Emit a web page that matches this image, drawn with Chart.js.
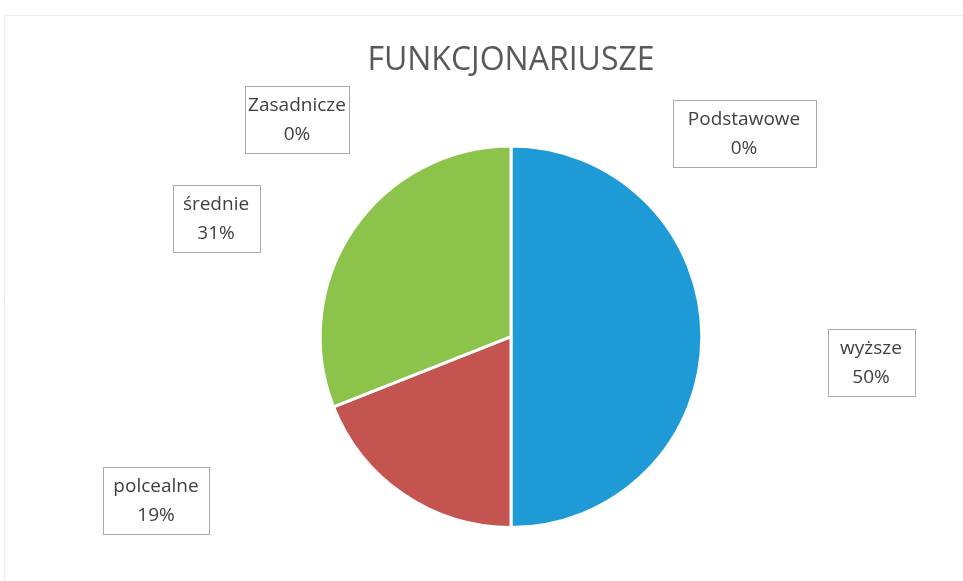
<!DOCTYPE html>
<html>
<head>
<meta charset="utf-8">
<script src="https://cdn.jsdelivr.net/npm/chart.js@4"></script>
<style>
  html, body { margin: 0; padding: 0; background: #fff; }
  #wrap { width: 963px; height: 581px; position: relative; }
</style>
</head>
<body>
<div id="wrap"><canvas id="chart" width="963" height="581"></canvas></div>
<script>
const title = 'FUNKCJONARIUSZE'
const categories = ['wyższe', 'polcealne', 'średnie', 'Zasadnicze', 'Podstawowe']
const percents = [50, 19, 31, 0, 0]
const colors = ['#1e9ad6', '#c4544f', '#8cc34a', '#f79646', '#8064a2']

// where Excel put each data label box (center x, center y, box width)
const labelSpots = [[871, 362, 87], [156, 500, 106], [216, 218, 87], [297, 119, 104], [744, 133, 143]]

const labelBoxes = {
  id: 'labelBoxes',
  beforeDraw(chart) {
    const ctx = chart.ctx
    ctx.save()
    ctx.strokeStyle = '#ececec'
    ctx.lineWidth = 1
    ctx.beginPath()
    ctx.moveTo(4.5, 581)
    ctx.lineTo(4.5, 15.5)
    ctx.lineTo(963, 15.5)
    ctx.stroke()
    ctx.restore()
  },
  afterDraw(chart) {
    const ctx = chart.ctx
    ctx.save()
    ctx.font = '19px "Open Sans", sans-serif'
    ctx.textAlign = 'center'
    ctx.textBaseline = 'middle'
    categories.forEach((cat, i) => {
      const [cx, cy, w] = labelSpots[i]
      const h = 67
      ctx.strokeStyle = '#a9a9a9'
      ctx.lineWidth = 1
      ctx.strokeRect(Math.round(cx - w / 2) + 0.5, Math.round(cy - h / 2) + 0.5, w, h)
      ctx.fillStyle = '#404040'
      ctx.fillText(cat, cx, cy - 13)
      ctx.fillText(percents[i] + '%', cx, cy + 16)
    })
    ctx.restore()
  }
}

new Chart(document.getElementById('chart'), {
  type: 'pie',
  data: {
    labels: categories,
    datasets: [{
      data: percents,
      backgroundColor: colors,
      borderColor: '#ffffff',
      borderWidth: 3
    }]
  },
  options: {
    responsive: false,
    animation: false,
    layout: { padding: { top: 0, bottom: 52, left: 59, right: 0 } },
    plugins: {
      legend: { display: false },
      tooltip: { enabled: false },
      title: {
        display: true,
        text: title,
        color: '#595959',
        font: { family: '"Open Sans", sans-serif', size: 32, weight: 'normal' },
        padding: { top: 42, bottom: 64 }
      }
    }
  },
  plugins: [labelBoxes]
})
</script>
</body>
</html>
